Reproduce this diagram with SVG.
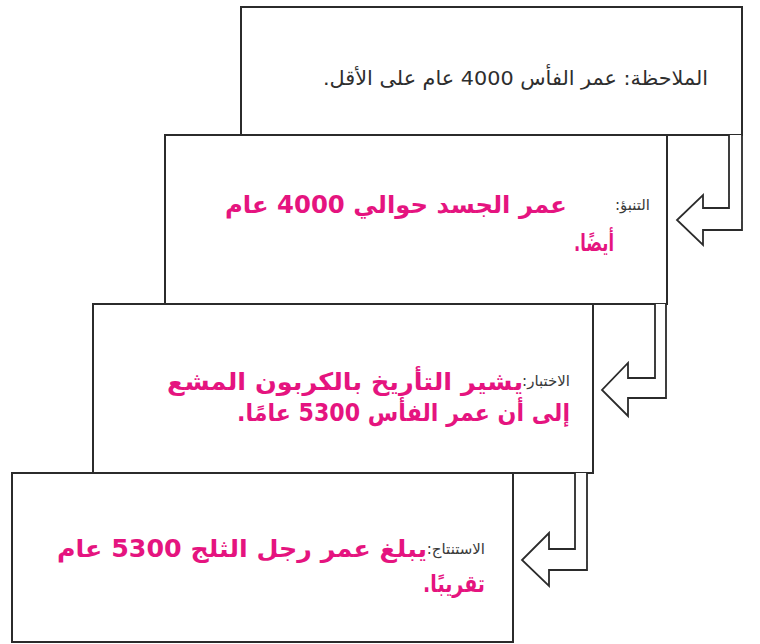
<svg xmlns="http://www.w3.org/2000/svg" width="760" height="644" viewBox="0 0 760 644">
<style>
.box{fill:#fff;stroke:#2b2b2b;stroke-width:2}
.arr{fill:#fff;stroke:#2b2b2b;stroke-width:1.8;stroke-linejoin:miter}
.lbl{font-family:"DejaVu Sans",sans-serif;fill:#3a3a3a;font-size:15px}
.obs{font-family:"DejaVu Sans",sans-serif;fill:#2e2e2e;font-size:20px}
.pk{font-family:"DejaVu Sans",sans-serif;fill:#e5147f;font-size:24px;font-weight:bold}
text{direction:rtl;unicode-bidi:embed}
</style>
<rect width="760" height="644" fill="#fff"/>
<g id="node-observation">
<rect class="box" x="241" y="7" width="501" height="128"/>
<text class="obs" x="708" y="85" text-anchor="start" textLength="385" lengthAdjust="spacingAndGlyphs">الملاحظة: عمر الفأس 4000 عام على الأقل.</text>
</g>
<g id="node-prediction">
<rect class="box" x="165" y="135" width="502" height="169"/>
<text class="lbl" x="650" y="210" text-anchor="start">التنبؤ:</text>
<text class="pk" x="567" y="213" text-anchor="start" textLength="342" lengthAdjust="spacingAndGlyphs">عمر الجسد حوالي 4000 عام</text>
<text class="pk" x="614" y="251" text-anchor="start" textLength="40" lengthAdjust="spacingAndGlyphs">أيضًا.</text>
</g>
<g id="node-test">
<rect class="box" x="93" y="304" width="500" height="169"/>
<text class="lbl" x="570" y="386" text-anchor="start">الاختبار:</text>
<text class="pk" x="523" y="390" text-anchor="start" textLength="356" lengthAdjust="spacingAndGlyphs">يشير التأريخ بالكربون المشع</text>
<text class="pk" x="570" y="421" text-anchor="start" textLength="333" lengthAdjust="spacingAndGlyphs">إلى أن عمر الفأس 5300 عامًا.</text>
</g>
<g id="node-conclusion">
<rect class="box" x="12" y="473" width="501" height="169"/>
<text class="lbl" x="485" y="554" text-anchor="start">الاستنتاج:</text>
<text class="pk" x="427" y="557" text-anchor="start" textLength="370" lengthAdjust="spacingAndGlyphs">يبلغ عمر رجل الثلج 5300 عام</text>
<text class="pk" x="485" y="592" text-anchor="start" textLength="62" lengthAdjust="spacingAndGlyphs">تقريبًا.</text>
</g>
<g id="connectors">
<polyline class="arr" points="729,135 729,208 703,208 703,195 677,220 703,245 703,230 742,230 742,135"/>
<polyline class="arr" points="655,304 655,378 628,378 628,363 602,390 628,416 628,398 666,398 666,304"/>
<polyline class="arr" points="575,473 575,549 549,549 549,533 522,560 549,586 549,570 587,570 587,473"/>
</g>
</svg>
